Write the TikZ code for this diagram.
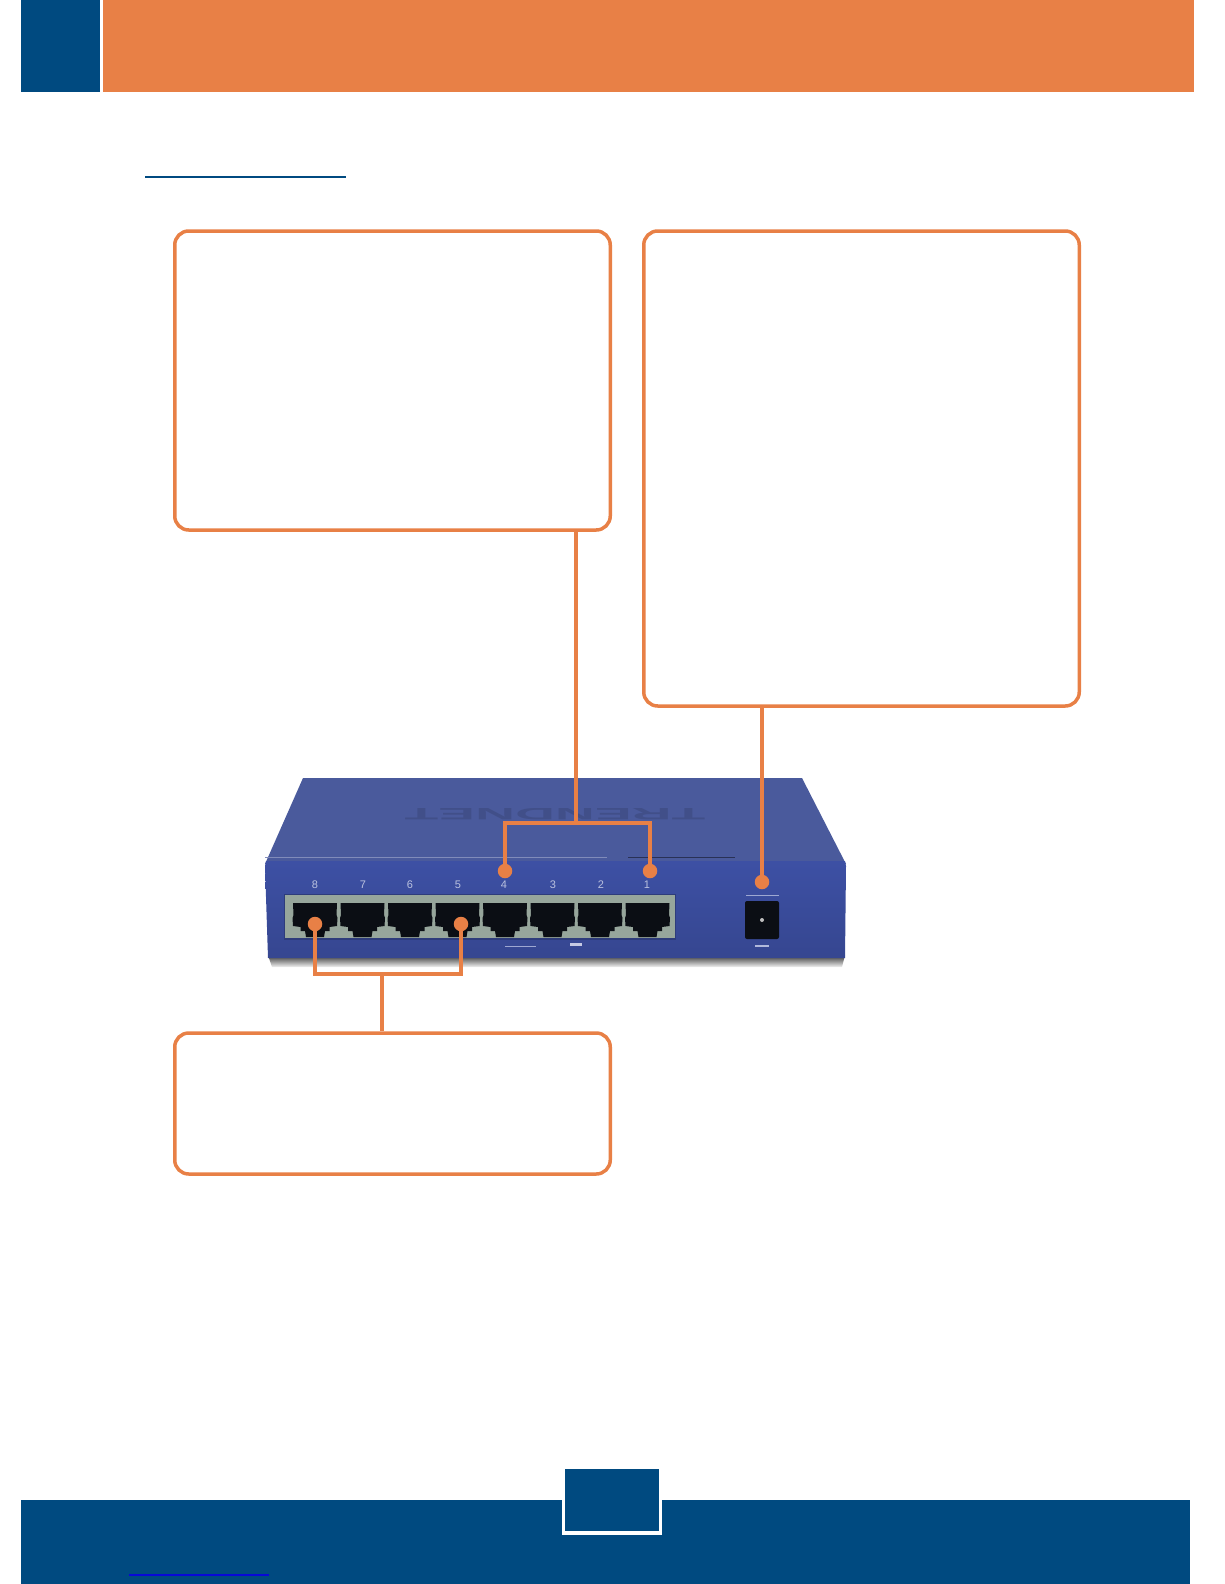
\documentclass[tikz,border=0pt]{standalone}
\usepackage{fontspec}
\setmainfont{Liberation Sans}
\definecolor{barblue}{HTML}{004A80}
\definecolor{barorange}{HTML}{E88046}
\definecolor{linkblue}{HTML}{0808D8}
\definecolor{topface}{HTML}{4A5A9C}
\definecolor{frontface}{HTML}{3D50A4}
\definecolor{panelgrey}{HTML}{97A69C}
\definecolor{portblack}{HTML}{0B0E14}
\tikzset{
  callout/.style={draw=barorange, line width=3.5pt, rounded corners=14pt, fill=white, inner sep=0pt},
  wire/.style={draw=barorange, line width=3.4pt},
  dot/.style={circle, fill=barorange, inner sep=0pt, minimum size=14.5pt},
  portlabel/.style={text=frontface!35!white, font=\fontsize{11}{11}\selectfont},
  logotext/.style={text=topface!70!black, font=\bfseries\fontsize{16.5}{16.5}\selectfont, opacity=.4, inner sep=0pt},
  rjport/.pic={
    \fill[portblack] (-22,903) -- (22,903) -- (21.5,915) -- (22.5,918) -- (22,926) -- (14.5,927)
      -- (14.5,931) -- (10,931) -- (9,937) -- (-9,937) -- (-10,931) -- (-14.5,931) -- (-14.5,927)
      -- (-22,926) -- (-22.5,918) -- (-21.5,915) -- cycle;
  }
}
\begin{document}
\begin{tikzpicture}[x=1pt,y=-1pt]
\useasboundingbox (0,0) rectangle (1224,1584);

%% header and footer bars
\fill[barblue] (21,0) rectangle (100,92);
\fill[barorange] (103,0) rectangle (1194,92);
\fill[barblue] (145,175.5) rectangle (346,178);
\fill[barblue] (21,1500) rectangle (1190,1584);
\fill[white] (562,1480) rectangle (662,1535);
\fill[barblue] (565,1469) rectangle (659,1531);
\fill[linkblue] (129,1574) rectangle (269,1576);

%% switch body
\shade[top color=black!80, bottom color=black!5]
  (268,955) -- (845,955) -- (842,967) -- (272,967) -- cycle;
\fill[topface] (303,778) -- (802,778) -- (846,864) -- (265,864) -- cycle;
\shade[top color=frontface, bottom color=frontface!88!black]
  (266,861) -- (845,861) -- (846,866) -- (845,958) -- (268,958) -- (265,866) -- cycle;
\node[logotext, rotate=180] (logo) at (555,814) {\scalebox{3.35}[1]{TRENDNET}};
\draw[topface!70!white, line width=.8pt] (265,857) -- (607,857);
\draw[topface!55!black, line width=1pt] (628,857) -- (735,857);

%% port panel
\fill[frontface!75!black] (284,893.5) rectangle (676,939.5);
\fill[panelgrey] (285,895) rectangle (675,938);

%% ports
\pic at (315,0) {rjport};     %% 8
\pic at (362.5,0) {rjport};   %% 7
\pic at (410,0) {rjport};     %% 6
\pic at (457.5,0) {rjport};   %% 5
\pic at (505,0) {rjport};     %% 4
\pic at (552.5,0) {rjport};   %% 3
\pic at (600,0) {rjport};     %% 2
\pic at (647.5,0) {rjport};   %% 1

%% port labels
\node[portlabel] (l8) at (315,885) {8};
\node[portlabel] (l7) at (363,885) {7};
\node[portlabel] (l6) at (410,885) {6};
\node[portlabel] (l5) at (458,885) {5};
\node[portlabel] (l4) at (504,885) {4};
\node[portlabel] (l3) at (553,885) {3};
\node[portlabel] (l2) at (601,885) {2};
\node[portlabel] (l1) at (647,885) {1};

%% power jack
\draw[frontface!50!white, line width=.7pt] (746,895) -- (779,895);
\fill[portblack, rounded corners=2pt] (745,901) rectangle (779,939);
\fill[black!25] (762,920) circle (2pt);
\fill[frontface!40!white] (755,945) rectangle (769,947);
\fill[frontface!50!white] (505,946) rectangle (536,947);
\fill[frontface!30!white] (570,943) rectangle (582,946);

%% boxes
\node[callout, minimum width=435.5pt, minimum height=299pt] (boxa) at (392.5,380.5) {};
\node[callout, minimum width=435.5pt, minimum height=475pt] (boxb) at (861.5,468.5) {};
\node[callout, minimum width=435.5pt, minimum height=141pt] (boxc) at (392.5,1103.5) {};

%% dots
\node[dot] (d4) at (505,871) {};
\node[dot] (d1) at (650,871) {};
\node[dot] (dp) at (762,882) {};
\node[dot] (d8) at (315,924) {};
\node[dot] (d5) at (461,924) {};

%% wires
\coordinate (ja) at (576,823);
\coordinate (jc) at (382,974);
\draw[wire] (ja |- boxa.south) -- (ja);
\draw[wire] (d4) |- (ja) -| (d1);
\draw[wire] (dp |- boxb.south) -- (dp);
\draw[wire] (d8) |- (jc) -| (d5);
\draw[wire] (jc) -- (jc |- boxc.north);
\end{tikzpicture}
\end{document}
